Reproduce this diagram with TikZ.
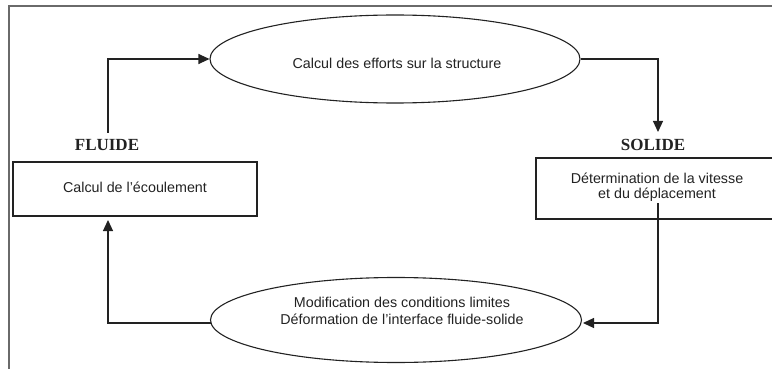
\documentclass[tikz,border=0pt]{standalone}
\usepackage{fontspec}
\setmainfont{Liberation Sans}
\newfontfamily\titlefont{Liberation Serif}
\usetikzlibrary{shapes.geometric,arrows.meta,calc}
\definecolor{ink}{HTML}{222222}
\definecolor{framegray}{HTML}{6A6A6A}
\tikzset{
  line/.style={draw=ink,line width=1.1pt},
  oval/.style={ellipse,line,inner sep=0pt},
  stepbox/.style={rectangle,line,inner sep=0pt},
  label/.style={text=ink,font=\fontsize{14.3}{17}\selectfont,align=center,inner sep=1pt},
  boxlabel/.style={text=ink,font=\fontsize{14.3}{15.5}\selectfont,align=center,inner sep=1pt},
  side/.style={font=\titlefont\bfseries\fontsize{17}{20}\selectfont,text=ink,inner sep=1pt},
  flow/.style={line,-{Triangle[length=11pt,width=10pt]}},
}
\begin{document}
\begin{tikzpicture}[x=1pt,y=-1pt]
\useasboundingbox (0,0) rectangle (772,369);
\draw[framegray,line width=2pt] (9,369) -- (9,6) -- (772,6);

\node[oval,minimum width=370pt,minimum height=88pt] (E1) at (395,59) {};
\node[label] (E1t) at (397,63) {Calcul des efforts sur la structure};

\node[oval,minimum width=371pt,minimum height=85pt] (E2) at (396,320) {};
\node[label] (E2t) at (402,311) {Modification des conditions limites\\D\'eformation de l'interface fluide-solide};

\node[stepbox,minimum width=244pt,minimum height=54pt] (F) at (135,189) {};
\node[label] (Ft) at (135,187) {Calcul de l’écoulement};

\node[stepbox,minimum width=242pt,minimum height=61pt] (S) at (657,188.5) {};
\node[boxlabel] (St) at (657,187) {Détermination de la vitesse\\et du déplacement};

\node[side] (fl) at (107,145) {FLUIDE};
\node[side] (sl) at (653,145) {SOLIDE};

\coordinate (flTop) at (108,133);
\coordinate (sTop) at (658,132);
\coordinate (sIn) at (658,203);
\coordinate (fBot) at (108,220);
\coordinate (e2r) at (583,323);
\coordinate (e2l) at (211,323);

\draw[flow] (flTop) |- (E1.west);
\draw[flow] (E1.east) -| (sTop);
\draw[flow] (sIn) |- (e2r);
\draw[flow] (e2l) -| (fBot);
\end{tikzpicture}
\end{document}
